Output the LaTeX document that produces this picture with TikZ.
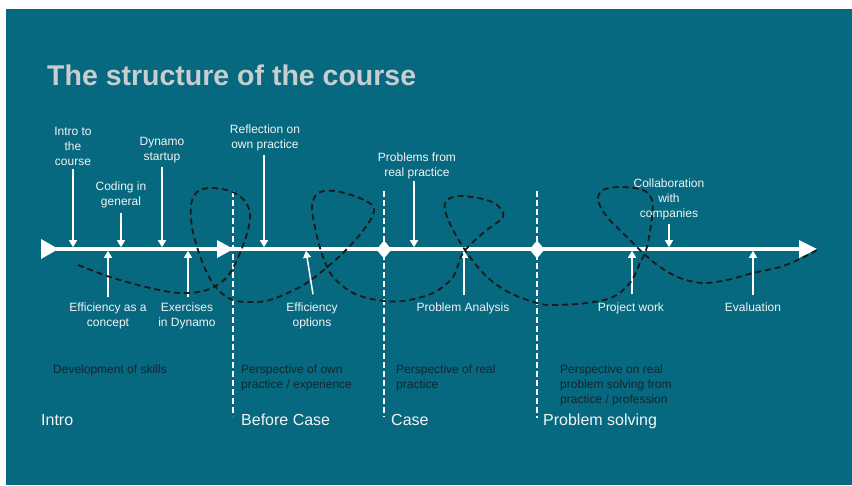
\documentclass[tikz,border=0pt]{standalone}
\usepackage{fontspec}
\setmainfont{Liberation Sans}
\usetikzlibrary{arrows.meta}
\definecolor{bg}{RGB}{7,105,128}
\definecolor{lbl}{RGB}{242,244,244}
\definecolor{ttl}{RGB}{200,205,207}
\definecolor{dark}{RGB}{18,38,45}
\begin{document}
\begin{tikzpicture}[x=1pt,y=-1pt,
  lab/.style={text=lbl,font=\fontsize{12}{15}\selectfont,align=center,inner sep=0pt},
  desc/.style={text=dark,font=\fontsize{12}{15}\selectfont,align=left,inner sep=0pt,anchor=north west},
  phase/.style={text=lbl,font=\fontsize{16}{19}\selectfont,inner sep=0pt,anchor=base west},
  arr/.style={draw=white,line width=1.5pt,-{Triangle[width=8pt,length=7pt]}},
  sepline/.style={draw=white,line width=2pt,dash pattern=on 6pt off 3pt},
  loopline/.style={draw=black!90,line width=1.8pt,dash pattern=on 6pt off 4pt,line cap=butt}
]
\useasboundingbox (0,0) rectangle (852,485);
\fill[white] (0,0) rectangle (852,485);
\fill[bg] (6,9) rectangle (852,485);

% title
\node[anchor=base west,inner sep=0pt,text=ttl,font=\fontsize{28.5}{32}\selectfont\bfseries] (title) at (47,85) {The structure of the course};

% phase separators
\draw[sepline] (233,191) -- (233,416);
\draw[sepline] (384,191) -- (384,417);
\draw[sepline] (537,191) -- (537,418);

% main timeline
\draw[white,line width=3.5pt] (56,249) -- (806,249);
\fill[white] (41,239) -- (41,259) -- (58.5,249) -- cycle;
\fill[white] (217,240) -- (217,258) -- (233.5,249) -- cycle;
\fill[white] (799,240) -- (799,258) -- (817,249) -- cycle;
\fill[white,rounded corners=1pt] (384,240.5) -- (391.5,249.5) -- (384,258.5) -- (376.5,249.5) -- cycle;
\fill[white,rounded corners=1pt] (537,240.5) -- (544.5,249.5) -- (537,258.5) -- (529.5,249.5) -- cycle;

% points on the line
\coordinate (t1) at (73,247.2);
\coordinate (t2) at (121,247.2);
\coordinate (t3) at (162,247.2);
\coordinate (t4) at (264,247.2);
\coordinate (t5) at (414,247.2);
\coordinate (t6) at (669,247.2);
\coordinate (s1) at (108,250.8);
\coordinate (s2) at (188,250.8);
\coordinate (s3) at (306,250.8);
\coordinate (s4) at (464,250.8);
\coordinate (s5) at (632,250.8);
\coordinate (s6) at (753,250.8);

% labels above
\node[lab] (l1) at (73,146) {Intro to\\the\\course};
\node[lab] (l2) at (121,194.5) {Coding in\\general};
\node[lab] (l3) at (162,150.5) {Dynamo\\startup};
\node[lab] (l4) at (265,137.5) {Reflection on\\own practice};
\node[lab] (l5) at (417,165.5) {Problems from\\real practice};
\node[lab] (l6) at (669,199.5) {Collaboration\\with\\companies};

% labels below
\node[lab] (b1) at (108,316) {Efficiency as a\\concept};
\node[lab] (b2) at (187,316) {Exercises\\in Dynamo};
\node[lab] (b3) at (312,315.5) {Efficiency\\options};
\node[lab] (b4) at (463,308.5) {Problem Analysis};
\node[lab] (b5) at (631,308) {Project work};
\node[lab] (b6) at (753,307.5) {Evaluation};

% arrows
\draw[arr] ([yshift=-4pt]l1.south -| t1) -- (t1);
\draw[arr] ([yshift=-5pt]l2.south -| t2) -- (t2);
\draw[arr] ([yshift=-3pt]l3.south -| t3) -- (t3);
\draw[arr] ([yshift=-4pt]l4.south -| t4) -- (t4);
\draw[arr] ([yshift=-2pt]l5.south -| t5) -- (t5);
\draw[arr] ([yshift=-4pt]l6.south -| t6) -- (t6);
\draw[arr] ([yshift=6pt]b1.north -| s1) -- (s1);
\draw[arr] ([yshift=6pt]b2.north -| s2) -- (s2);
\draw[arr] ([xshift=1pt,yshift=8pt]b3.north) -- (s3);
\draw[arr] ([yshift=8pt]b4.north -| s4) -- (s4);
\draw[arr] ([yshift=8pt]b5.north -| s5) -- (s5);
\draw[arr] ([yshift=8pt]b6.north -| s6) -- (s6);

% descriptions
\node[text=dark,font=\fontsize{12}{15}\selectfont,inner sep=0pt,anchor=base west] (d1) at (53,373.3) {Development of skills};
\node[desc] (d2) at (241,364.5) {Perspective of own\\practice / experience};
\node[desc] (d3) at (396,364.5) {Perspective of real\\practice};
\node[desc] (d4) at (560,364.5) {Perspective on real\\problem solving from\\practice / profession};

% phase names
\node[phase] (p1) at (41,425.7) {Intro};
\node[phase] (p2) at (241,425.7) {Before Case};
\node[phase] (p3) at (391,425.7) {Case};
\node[phase] (p4) at (543,425.7) {Problem solving};

% dashed loop curve
\draw[loopline] plot[smooth,tension=0.55] coordinates {
 (78,265) (110,277) (150,288) (180,293) (207,290) (227,277) (240,253)
 (248,230) (250,213) (244,200) (230,191) (210,188) (197,192) (191,205)
 (192,227) (198,250) (207,273) (218,290) (233,300) (250,302) (270,300)
 (300,287) (320,273) (343,253) (362,232) (373,215) (372,205) (357,197)
 (335,191) (318,193) (312,207) (316,232) (323,257) (333,277) (353,293)
 (377,300) (403,301) (433,293) (453,277) (463,253) (483,233) (503,217)
 (497,205) (483,199) (460,196) (447,200) (445,210) (452,228) (467,253)
 (487,277) (510,293) (537,303) (553,305) (587,303) (613,297) (630,283)
 (640,263) (647,247) (652,217) (652,200) (643,190) (620,187) (603,190)
 (598,200) (607,217) (627,237) (643,253) (660,267) (680,278) (703,283)
 (727,280) (753,273) (780,267) (800,259) (817,250)};
\end{tikzpicture}
\end{document}
